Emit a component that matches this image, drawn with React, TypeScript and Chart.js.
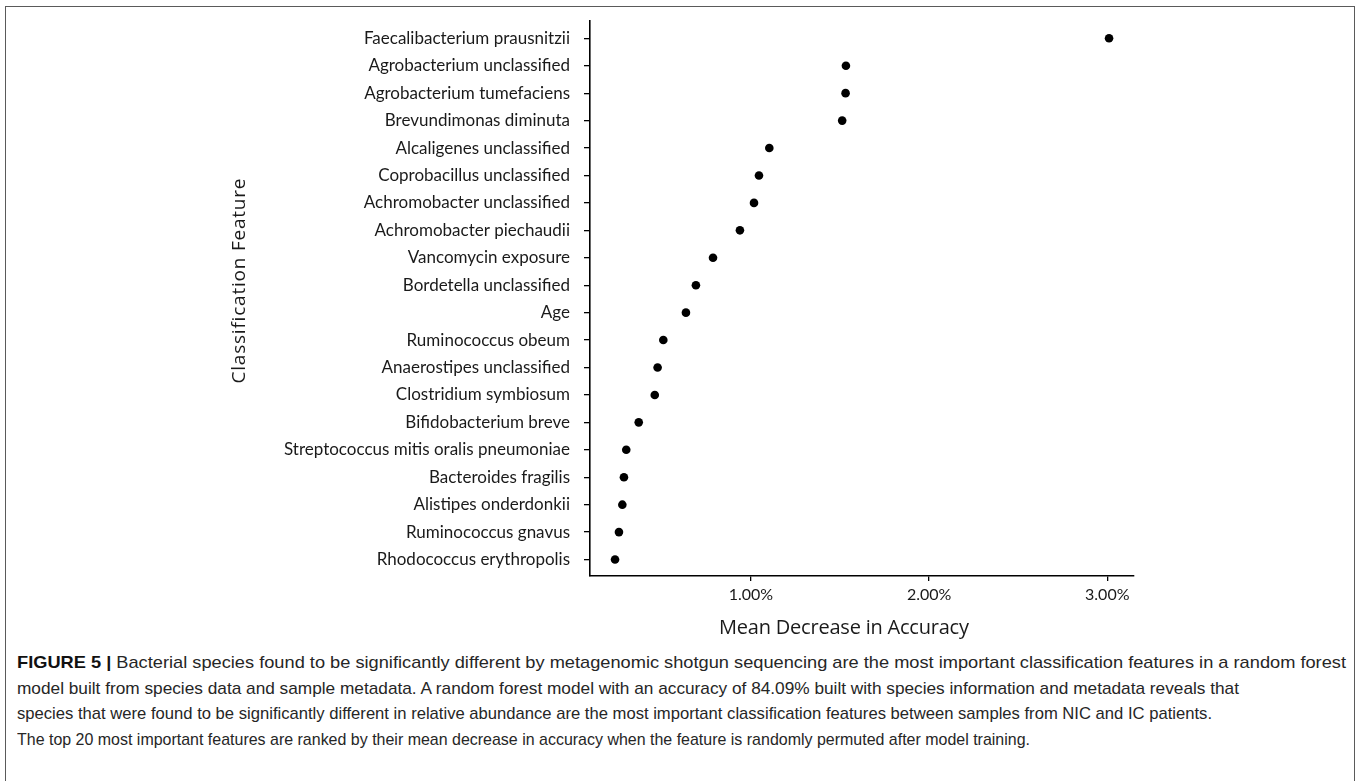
import React, { useEffect, useLayoutEffect, useRef } from "react";
import { Chart, registerables } from "chart.js";

Chart.register(...registerables);

// ---- data ----
const features: string[] = [
  "Faecalibacterium prausnitzii",
  "Agrobacterium unclassified",
  "Agrobacterium tumefaciens",
  "Brevundimonas diminuta",
  "Alcaligenes unclassified",
  "Coprobacillus unclassified",
  "Achromobacter unclassified",
  "Achromobacter piechaudii",
  "Vancomycin exposure",
  "Bordetella unclassified",
  "Age",
  "Ruminococcus obeum",
  "Anaerostipes unclassified",
  "Clostridium symbiosum",
  "Bifidobacterium breve",
  "Streptococcus mitis oralis pneumoniae",
  "Bacteroides fragilis",
  "Alistipes onderdonkii",
  "Ruminococcus gnavus",
  "Rhodococcus erythropolis",
];
const meanDecrease: number[] = [
  3.01, 1.533, 1.531, 1.512, 1.103, 1.045, 1.017, 0.938, 0.787, 0.691, 0.635,
  0.508, 0.476, 0.46, 0.37, 0.3, 0.287, 0.278, 0.259, 0.237,
];
const xTickValues: number[] = [1, 2, 3];
const xTitle = "Mean Decrease in Accuracy";
const yTitle = "Classification Feature";

const captionBold = "FIGURE 5 |";
const captionLines: string[] = [
  " Bacterial species found to be significantly different by metagenomic shotgun sequencing are the most important classification features in a random forest",
  "model built from species data and sample metadata. A random forest model with an accuracy of 84.09% built with species information and metadata reveals that",
  "species that were found to be significantly different in relative abundance are the most important classification features between samples from NIC and IC patients.",
  "The top 20 most important features are ranked by their mean decrease in accuracy when the feature is randomly permuted after model training.",
];
const captionLineWidths: number[] = [1329, 1222, 1195, 1013];

const W = 1360;
const CANVAS_H = 645;

const titlePlugin = {
  id: "fittedAxisTitles",
  afterDraw(chart: any) {
    const ctx = chart.ctx as CanvasRenderingContext2D;
    const draw = (
      text: string,
      cx: number,
      cy: number,
      rot: number,
      font: string,
      target: number
    ) => {
      ctx.save();
      ctx.font = font;
      (ctx as any).letterSpacing = "0px";
      const w = ctx.measureText(text).width;
      const ls = (target - w) / Math.max(1, text.length - 1);
      (ctx as any).letterSpacing = ls + "px";
      ctx.fillStyle = "#1a1a1a";
      ctx.textAlign = "left";
      ctx.textBaseline = "middle";
      ctx.translate(cx, cy);
      ctx.rotate(rot);
      ctx.fillText(text, -target / 2, 0);
      ctx.restore();
    };
    draw(yTitle, 240, 281, -Math.PI / 2, '19px "Open Sans"', 205);
    draw(xTitle, 844, 628, 0, '20px "Open Sans"', 250);
  },
};

export default function App() {
  const canvasRef = useRef<HTMLCanvasElement | null>(null);
  const lineRefs = useRef<(HTMLSpanElement | null)[]>([]);

  useLayoutEffect(() => {
    document.body.style.margin = "0";
    lineRefs.current.forEach((el, i) => {
      if (!el) return;
      el.style.transform = "none";
      const w = el.getBoundingClientRect().width;
      if (w > 0) el.style.transform = `scaleX(${captionLineWidths[i] / w})`;
    });
  }, []);

  useEffect(() => {
    if (!canvasRef.current) return;
    const chart = new Chart(canvasRef.current, {
      type: "scatter",
      data: {
        datasets: [
          {
            data: meanDecrease.map((v, i) => ({ x: v, y: i })),
            backgroundColor: "#000",
            borderColor: "#000",
            pointRadius: 4.3,
            pointHoverRadius: 4.3,
            borderWidth: 0,
          },
        ],
      },
      options: {
        animation: false,
        responsive: false,
        maintainAspectRatio: false,
        events: [],
        layout: { padding: { left: 0, right: W - 1134, top: 21, bottom: 0 } },
        plugins: {
          legend: { display: false },
          tooltip: { enabled: false },
          title: { display: false },
        },
        scales: {
          x: {
            type: "linear",
            min: 0.0965,
            max: 3.15,
            afterBuildTicks: (axis: any) => {
              axis.ticks = xTickValues.map((v) => ({ value: v }));
            },
            afterFit: (axis: any) => {
              axis.height = CANVAS_H - 576;
              axis.paddingLeft = 0;
              axis.paddingRight = 0;
            },
            ticks: {
              callback: (v: any) => Number(v).toFixed(2) + "%",
              color: "#1a1a1a",
              font: { family: "Lato", size: 16 },
              padding: 4,
              maxRotation: 0,
              autoSkip: false,
            },
            grid: {
              display: true,
              drawOnChartArea: false,
              drawTicks: true,
              tickLength: 5,
              color: "#000",
              lineWidth: 1.3,
            },
            border: { display: true, color: "#000", width: 1.6 },
            title: { display: false },
          },
          y: {
            type: "linear",
            reverse: true,
            min: -0.63,
            max: features.length - 1 + 0.6,
            afterBuildTicks: (axis: any) => {
              axis.ticks = features.map((_, i) => ({ value: i }));
            },
            afterFit: (axis: any) => {
              axis.width = 590;
              axis.paddingTop = 0;
              axis.paddingBottom = 0;
            },
            ticks: {
              callback: (v: any) => features[Number(v)] ?? "",
              color: "#1a1a1a",
              font: { family: "Lato", size: 17 },
              padding: 14,
              autoSkip: false,
            },
            grid: {
              display: true,
              drawOnChartArea: false,
              drawTicks: true,
              tickLength: 6,
              color: "#000",
              lineWidth: 1.3,
            },
            border: { display: true, color: "#000", width: 1.6 },
            title: { display: false },
          },
        },
      },
      plugins: [titlePlugin],
    });
    return () => chart.destroy();
  }, []);

  return (
    <div
      style={{
        position: "relative",
        width: W,
        height: 781,
        overflow: "hidden",
        background: "#fff",
      }}
    >
      <div
        style={{
          position: "absolute",
          left: 5,
          top: 6,
          width: 1351 - 3,
          height: 900,
          border: "1.5px solid #5a5a5a",
        }}
      />
      <canvas
        ref={canvasRef}
        width={W}
        height={CANVAS_H}
        style={{ position: "absolute", left: 0, top: 0, width: W, height: CANVAS_H }}
      />
      <div
        style={{
          position: "absolute",
          left: 17,
          top: 650,
          fontFamily: '"Liberation Sans Narrow", "Liberation Sans", Arial, sans-serif',
          fontSize: 17,
          lineHeight: "25.6px",
          color: "#262626",
          whiteSpace: "nowrap",
        }}
      >
        {captionLines.map((l, i) => (
          <div key={i}>
            <span
              ref={(el) => {
                lineRefs.current[i] = el;
              }}
              style={{ display: "inline-block", transformOrigin: "0 50%" }}
            >
              {i === 0 ? <b style={{ color: "#111" }}>{captionBold}</b> : null}
              {l}
            </span>
          </div>
        ))}
      </div>
    </div>
  );
}
